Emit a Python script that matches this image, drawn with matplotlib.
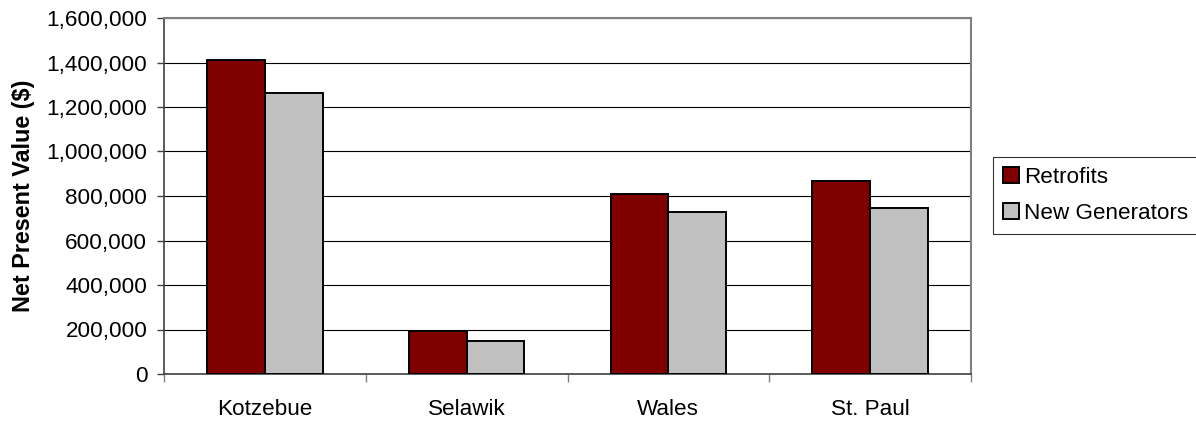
import numpy as np
import matplotlib.pyplot as plt
from matplotlib.ticker import FuncFormatter

plt.rcParams['font.family'] = ['Liberation Sans', 'DejaVu Sans']

sites = ['Kotzebue', 'Selawik', 'Wales', 'St. Paul']
retrofits = [1411000, 193000, 809000, 867000]
new_generators = [1264000, 148000, 727000, 746000]
yticks = np.arange(0, 1600001, 200000)

fs = 16.2

fig = plt.figure(figsize=(11.96, 4.25), dpi=100)
ax = fig.add_axes([164 / 1196, 51 / 425, 807 / 1196, 356 / 425])

x = np.arange(len(sites))
bar_width = 1 / 3.5
b1 = ax.bar(x - bar_width / 2, retrofits, width=bar_width, color='#800000',
            edgecolor='black', linewidth=1.4, label='Retrofits', zorder=3)
b2 = ax.bar(x + bar_width / 2, new_generators, width=bar_width, color='#c0c0c0',
            edgecolor='black', linewidth=1.4, label='New Generators', zorder=3)

ax.set_xlim(-0.5, len(sites) - 0.5)
ax.set_ylim(0, 1600000)
ax.set_yticks(yticks)
ax.yaxis.set_major_formatter(FuncFormatter(lambda v, p: f'{int(v):,}'))
ax.yaxis.grid(True, color='black', linewidth=0.8, zorder=0)

# category labels sit between the boundary ticks
ax.set_xticks(np.arange(-0.5, len(sites), 1))
ax.set_xticklabels([])
ax.set_xticks(x, minor=True)
ax.set_xticklabels(sites, minor=True, fontsize=fs)
ax.tick_params(axis='x', which='minor', length=0, pad=18)
ax.tick_params(axis='x', which='major', length=6, width=1, color='#808080', direction='out')
ax.tick_params(axis='y', length=5, width=1, color='#404040', labelsize=fs, pad=7)

for s in ['top', 'right']:
    ax.spines[s].set_color('#808080')
    ax.spines[s].set_linewidth(1.5)
ax.spines['left'].set_color('#404040')
ax.spines['left'].set_linewidth(1.2)
ax.spines['bottom'].set_color('#404040')
ax.spines['bottom'].set_linewidth(1.2)

ax.set_ylabel('Net Present Value ($)', fontsize=16.8, fontweight='bold', labelpad=8)

leg = fig.legend(handles=[b1, b2], loc='upper left', bbox_to_anchor=(993 / 1196, 1 - 157 / 425),
                 fontsize=fs, frameon=True, fancybox=False, handlelength=0.7,
                 handleheight=0.7, handletextpad=0.25, labelspacing=0.65,
                 borderpad=0.45, borderaxespad=0)
leg.get_frame().set_edgecolor('black')
leg.get_frame().set_linewidth(0.8)

fig.savefig('out.png', dpi=100)
